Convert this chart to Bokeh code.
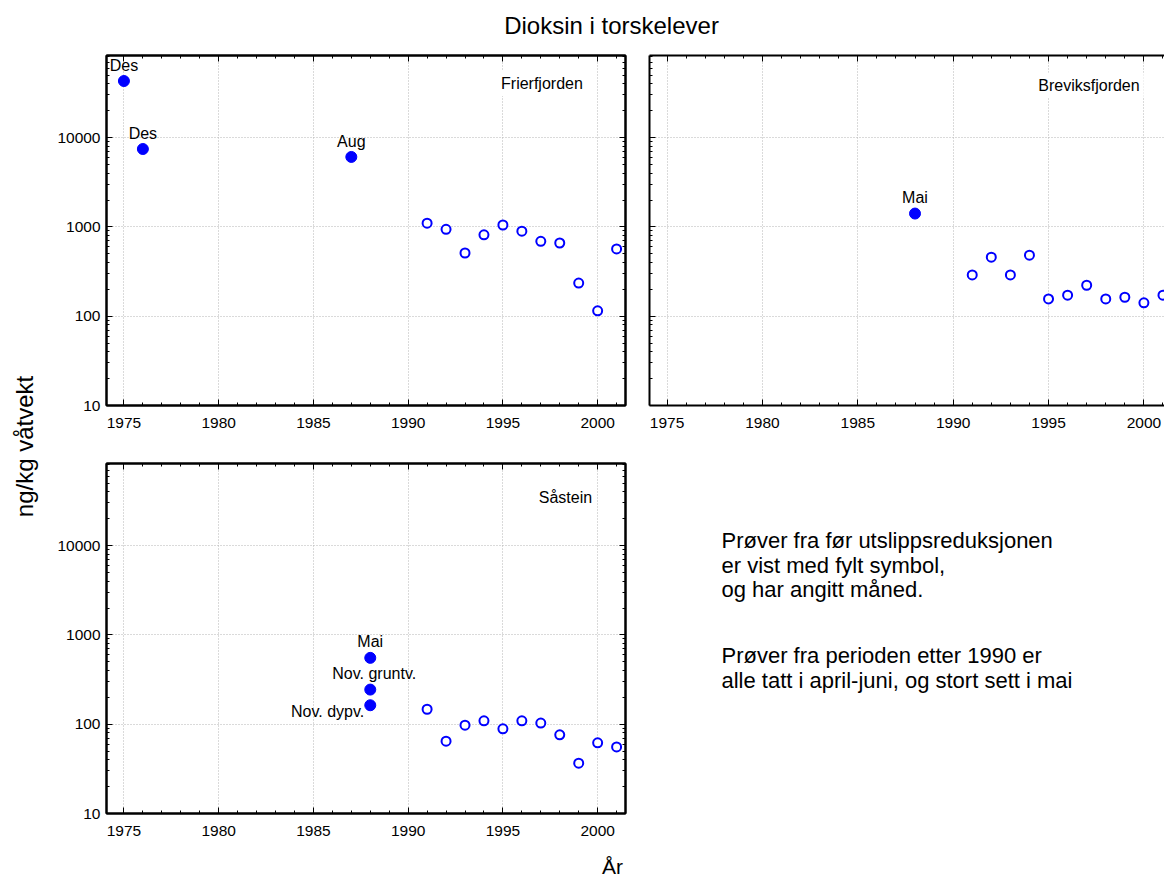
from math import pi
from bokeh.plotting import figure
from bokeh.layouts import row, column
from bokeh.models import (Range1d, FixedTicker, SingleIntervalTicker, PrintfTickFormatter,
                          LogAxis, LinearAxis, ColumnDataSource, LabelSet, Label)
from bokeh.core.properties import value
from bokeh.embed import file_html
from bokeh.resources import INLINE

# ---------------- data ----------------
title_text = "Dioksin i torskelever"
y_label = "ng/kg våtvekt"
x_label = "År"

years_post = [1991, 1992, 1993, 1994, 1995, 1996, 1997, 1998, 1999, 2000, 2001]

frier_name = "Frierfjorden"
frier_pre_years = [1975, 1976, 1987]
frier_pre_vals = [43000, 7450, 6070]
frier_pre_labels = ["Des", "Des", "Aug"]
frier_post_vals = [1100, 940, 510, 815, 1050, 895, 690, 660, 235, 115, 567]

brevik_name = "Breviksfjorden"
brevik_pre_years = [1988]
brevik_pre_vals = [1410]
brevik_pre_labels = ["Mai"]
brevik_post_vals = [290, 458, 290, 482, 156, 172, 222, 156, 163, 141, 172]

sast_name = "Såstein"
sast_pre_years = [1988, 1988, 1988]
sast_pre_vals = [553, 244, 163]
sast_pre_labels = ["Mai", "Nov. gruntv.", "Nov. dypv."]
sast_post_vals = [147, 64.5, 97.5, 109, 88.7, 109, 103, 76, 36.6, 61.8, 55.7]

note_lines = ["Prøver fra før utslippsreduksjonen",
              "er vist med fylt symbol,",
              "og har angitt måned.",
              "",
              "Prøver fra perioden etter 1990 er",
              "alle tatt i april-juni, og stort sett i mai"]

y_major = [10, 100, 1000, 10000]
x_major = [1975, 1980, 1985, 1990, 1995, 2000]

# ---------------- style ----------------
FONT = "Liberation Sans"
BLUE = "#0000ff"
TICK_FS = "15.5px"
LBL_FS = "16px"
NOTE_FS = "22px"
TITLE_FS = "24px"

y_minor = [d * k for d in [10, 100, 1000, 10000] for k in range(2, 10) if d * k <= 90000]


def style_axis(ax, show_labels, standoff, ticks=None):
    ax.axis_line_width = 2
    ax.axis_line_color = "black"
    ax.major_tick_in = 6
    ax.major_tick_out = 0
    ax.minor_tick_in = 3
    ax.minor_tick_out = 0
    ax.major_tick_line_color = "black"
    ax.minor_tick_line_color = "black"
    ax.major_label_standoff = standoff
    ax.major_label_text_font = FONT
    ax.major_label_text_color = "black"
    if show_labels:
        ax.major_label_text_font_size = TICK_FS
    else:
        ax.major_label_text_font_size = "1px"
        ax.major_label_overrides = {t: "" for t in ticks}


def panel(width, frame_left, frame_right_border, top_border, bottom_border, x_end,
          show_ylabels, right_axis, outline):
    height = top_border + 350 + bottom_border
    p = figure(width=width, height=height, y_axis_type="log",
               x_range=Range1d(1974.08, x_end), y_range=Range1d(10, 83000),
               output_backend="svg", toolbar_location=None,
               min_border_left=frame_left, min_border_right=frame_right_border,
               min_border_top=top_border, min_border_bottom=bottom_border)
    xt = SingleIntervalTicker(interval=5, num_minor_ticks=5)
    yt = FixedTicker(ticks=y_major, minor_ticks=y_minor)
    fmt = PrintfTickFormatter(format="%d")
    p.xaxis.ticker = xt
    p.yaxis.ticker = yt
    p.yaxis.formatter = fmt
    for ax in p.xaxis:
        style_axis(ax, True, 12)
    for ax in p.yaxis:
        style_axis(ax, show_ylabels, 6, y_major)
    top = LinearAxis(ticker=xt)
    style_axis(top, False, 0, x_major)
    p.add_layout(top, "above")
    if right_axis:
        rax = LogAxis(ticker=yt, formatter=fmt)
        style_axis(rax, False, 0, y_major)
        p.add_layout(rax, "right")
    p.xgrid.ticker = xt
    p.ygrid.ticker = yt
    for g in (p.xgrid, p.ygrid):
        g.grid_line_color = "#b4b4b4"
        g.grid_line_dash = "1 2"
        g.grid_line_width = 1
    if outline:
        p.outline_line_color = "black"
        p.outline_line_width = 2
    else:
        p.outline_line_color = None
    return p


label_style = {
    "Des": ("center", 0, 15.5),
    "Aug": ("center", 0, 15.5),
    "Mai": ("center", 0, 16),
    "Nov. gruntv.": ("center", 4, 15.6),
    "Nov. dypv.": ("right", -6, -6.4),
}


def add_points(p, pre_years, pre_vals, pre_labels, post_vals, name, name_x, name_y):
    p.scatter(years_post, post_vals, size=9, fill_color="white", line_color=BLUE, line_width=2)
    p.scatter(pre_years, pre_vals, size=11, fill_color=BLUE, line_color=BLUE)
    for align in ("center", "right"):
        xs, ys, ts, dx, dy = [], [], [], [], []
        for yr, v, t in zip(pre_years, pre_vals, pre_labels):
            a, ox, oy = label_style[t]
            if a == align:
                xs.append(yr); ys.append(v); ts.append(t); dx.append(ox); dy.append(oy)
        if xs:
            src = ColumnDataSource(dict(x=xs, y=ys, t=ts, dx=dx, dy=dy))
            p.add_layout(LabelSet(x="x", y="y", text="t", source=src, x_offset="dx", y_offset="dy",
                                  text_align=align, text_baseline="middle",
                                  text_font=value(FONT), text_font_size=LBL_FS, text_color="black"))
    p.add_layout(Label(x=name_x, y=name_y, text=name, text_align="center", text_baseline="middle",
                       text_font=FONT, text_font_size=LBL_FS, text_color="black",
                       background_fill_color="white", padding=4))


def blank(w, h, left=0, right=0, top=0, bottom=0):
    f = figure(width=w, height=h, x_range=Range1d(0, w - left - right),
               y_range=Range1d(0, h - top - bottom),
               output_backend="svg", toolbar_location=None,
               min_border_left=left, min_border_right=right,
               min_border_top=top, min_border_bottom=bottom)
    f.axis.visible = False
    f.grid.visible = False
    f.outline_line_color = None
    return f


# ---------------- panels ----------------
# rows: title 0..40 | top row 40..437 | bottom row 437..845 | x label 845..877
TL = panel(582, 50, 11, 15, 32, 2001.47, True, True, True)
add_points(TL, frier_pre_years, frier_pre_vals, frier_pre_labels, frier_post_vals,
           frier_name, 1997.06, 40300)

TR = panel(528, 13, 0, 15, 32, 2001.08, False, False, False)
add_points(TR, brevik_pre_years, brevik_pre_vals, brevik_pre_labels, brevik_post_vals,
           brevik_name, 1997.12, 38500)

BL = panel(582, 50, 11, 26, 32, 2001.47, True, True, True)
add_points(BL, sast_pre_years, sast_pre_vals, sast_pre_labels, sast_post_vals,
           sast_name, 1998.3, 34800)

# note panel shares BL's frame: x 653..1168, y 463..813
note = blank(528, 408, left=13, right=0, top=26, bottom=32)
ny = [273, 248, 224, None, 158, 133]
nx, nyy, nt = [], [], []
for i, line in enumerate(note_lines):
    if line:
        nx.append(72); nyy.append(ny[i]); nt.append(line)
note.text(x=nx, y=nyy, text=nt, text_font=value(FONT), text_font_size=NOTE_FS,
          text_align="left", text_baseline="middle", text_color="black")

title_fig = blank(1168, 40)
title_fig.text(x=[611], y=[15], text=[title_text], text_font=value(FONT), text_font_size=TITLE_FS,
               text_align="center", text_baseline="middle", text_color="black")

ylab_fig = blank(54, 805)
ylab_fig.text(x=[24], y=[399], text=[y_label], angle=pi / 2, text_font=value(FONT),
              text_font_size=TITLE_FS, text_align="center", text_baseline="middle", text_color="black")

xlab_fig = blank(1168, 32)
xlab_fig.text(x=[612], y=[11], text=[x_label], text_font=value(FONT), text_font_size="21px",
              text_align="center", text_baseline="middle", text_color="black")

page = column(title_fig,
              row(ylab_fig, column(row(TL, TR), row(BL, note))),
              xlab_fig)

open("out.html", "w").write(file_html(page, INLINE))
